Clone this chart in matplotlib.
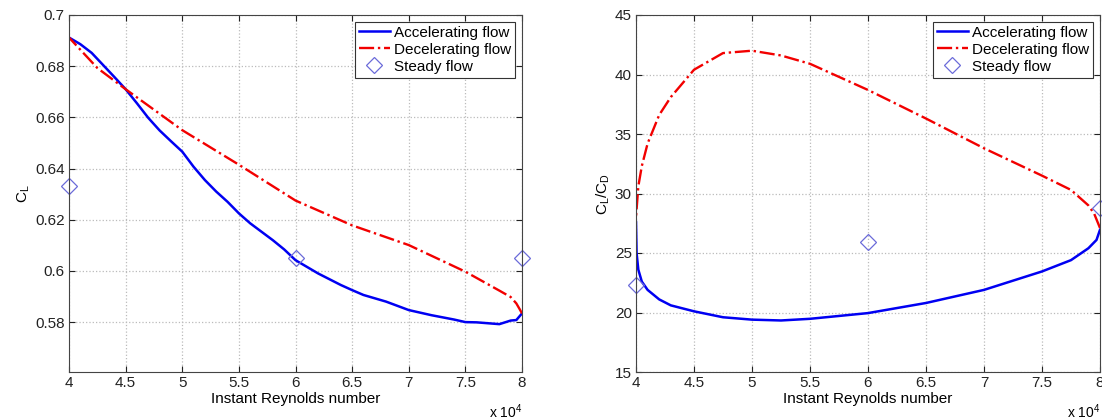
import numpy as np
from matplotlib import pyplot as plt
from matplotlib import rcParams

config = {
    "font.family": ["Liberation Sans", "DejaVu Sans"],
    "mathtext.default": "regular",
}
rcParams.update(config)

tickSize = 11
labelSize = 11
legendSize = 11

blue = (0.0, 0.0, 0.95)
red = (0.95, 0.0, 0.0)
diamondColor = (0.42, 0.42, 0.85)

# Reynolds number in units of 1e4
re_acc_cl = [4.0, 4.1, 4.2, 4.3, 4.4, 4.5, 4.6, 4.7, 4.8, 4.9, 5.0, 5.1, 5.2, 5.3, 5.4, 5.5,
             5.6, 5.7, 5.8, 5.9, 6.0, 6.2, 6.4, 6.5, 6.6, 6.8, 7.0, 7.2, 7.4, 7.5, 7.6, 7.8,
             7.9, 7.95, 8.0]
cl_acc = [0.6912, 0.6886, 0.6852, 0.6805, 0.6758, 0.6710, 0.6655, 0.6598, 0.6549, 0.6507,
          0.6466, 0.6407, 0.6355, 0.631, 0.627, 0.6225, 0.6186, 0.6153, 0.612, 0.6084,
          0.6042, 0.599, 0.5945, 0.5925, 0.5906, 0.588, 0.5847, 0.5827, 0.581, 0.5800,
          0.5799, 0.5792, 0.5806, 0.5808, 0.5834]

re_dec_cl = [8.0, 7.98, 7.95, 7.9, 7.8, 7.5, 7.0, 6.5, 6.0, 5.5, 5.0, 4.5, 4.25, 4.0]
cl_dec = [0.5834, 0.585, 0.5873, 0.5898, 0.5923, 0.5997, 0.6101, 0.6178, 0.6275, 0.6415,
          0.6550, 0.6710, 0.6793, 0.6912]

re_steady = [4.0, 6.0, 8.0]
cl_steady = [0.633, 0.605, 0.605]

re_acc_ld = [4.0, 4.005, 4.02, 4.05, 4.1, 4.2, 4.3, 4.5, 4.75, 5.0, 5.25, 5.5, 6.0, 6.5,
             7.0, 7.5, 7.75, 7.9, 7.97, 8.0]
ld_acc = [27.6, 25.0, 23.6, 22.6, 21.9, 21.1, 20.6, 20.1, 19.6, 19.4, 19.33, 19.47, 19.95,
          20.8, 21.9, 23.45, 24.4, 25.4, 26.1, 26.95]

re_dec_ld = [8.0, 7.95, 7.9, 7.75, 7.5, 7.0, 6.5, 6.0, 5.5, 5.25, 5.0, 4.75, 4.5, 4.3,
             4.2, 4.1, 4.05, 4.02, 4.0]
ld_dec = [27.1, 28.3, 29.0, 30.3, 31.5, 33.8, 36.3, 38.7, 40.9, 41.6, 42.0, 41.8, 40.4,
          38.1, 36.6, 34.2, 32.3, 30.6, 28.0]

ld_steady = [22.3, 25.9, 28.8]

xticks = [4, 4.5, 5, 5.5, 6, 6.5, 7, 7.5, 8]
xtickLabels = ['4', '4.5', '5', '5.5', '6', '6.5', '7', '7.5', '8']


def styleAxes(ax):
    ax.set_xlim(4, 8)
    ax.set_xticks(xticks)
    ax.set_xticklabels(xtickLabels)
    ax.tick_params(axis='both', direction='in', top=True, right=True, length=4,
                   labelsize=tickSize, colors='#222222', pad=3)
    ax.grid(linestyle=':', color='#bbbbbb', linewidth=0.9)
    for s in ax.spines.values():
        s.set_color('#444444')
        s.set_linewidth(0.8)
    ax.set_xlabel('Instant Reynolds number', fontsize=labelSize, labelpad=1)
    ax.text(1.0, -0.085, r'x 10$^4$', transform=ax.transAxes, ha='right', va='top',
            fontsize=labelSize - 1)


def drawPanel(ax, xa, ya, xd, yd, ys):
    ax.plot(xa, ya, color=blue, linewidth=1.8, label='Accelerating flow')
    ax.plot(xd, yd, color=red, linewidth=1.7, linestyle='-.', label='Decelerating flow')
    ax.plot(re_steady, ys, linestyle='none', marker='D', markersize=8.5,
            markerfacecolor='none', markeredgecolor=diamondColor, markeredgewidth=0.9,
            label='Steady flow', clip_on=False)
    leg = ax.legend(loc='upper right', fontsize=legendSize, fancybox=False, framealpha=1,
                    handlelength=2.0, borderpad=0.25, labelspacing=0.2, handletextpad=0.3,
                    borderaxespad=0.45)
    leg.get_frame().set_edgecolor('#333333')
    leg.get_frame().set_linewidth(0.8)


fig = plt.figure(figsize=(11.02, 4.2), dpi=100)

ax1 = fig.add_axes([69 / 1102, 48 / 420, (522 - 69) / 1102, (372 - 15) / 420])
drawPanel(ax1, re_acc_cl, cl_acc, re_dec_cl, cl_dec, cl_steady)
ax1.set_ylim(0.5605, 0.7)
ax1.set_yticks([0.58, 0.6, 0.62, 0.64, 0.66, 0.68, 0.7])
ax1.set_yticklabels(['0.58', '0.6', '0.62', '0.64', '0.66', '0.68', '0.7'])
ax1.set_ylabel(r'C$_L$', fontsize=labelSize, labelpad=2)
styleAxes(ax1)

ax2 = fig.add_axes([636 / 1102, 48 / 420, (1100 - 636) / 1102, (372 - 15) / 420])
drawPanel(ax2, re_acc_ld, ld_acc, re_dec_ld, ld_dec, ld_steady)
ax2.set_ylim(15, 45)
ax2.set_yticks([15, 20, 25, 30, 35, 40, 45])
ax2.set_ylabel(r'C$_L$/C$_D$', fontsize=labelSize, labelpad=2)
styleAxes(ax2)

plt.savefig('out.png', dpi=100)
plt.close()
